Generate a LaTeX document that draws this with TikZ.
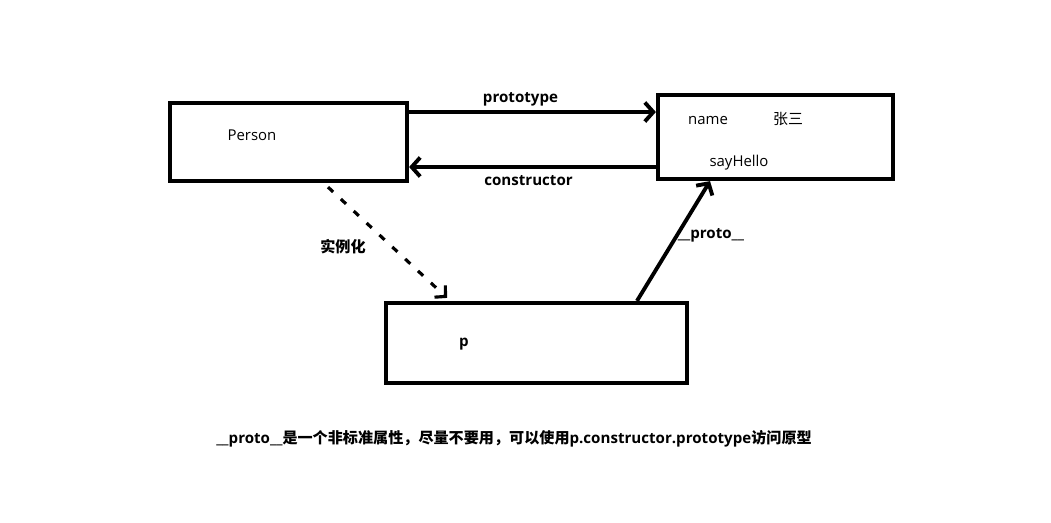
\documentclass[tikz,border=0pt]{standalone}
\usepackage{fontspec}
\setmainfont{Open Sans}
\newfontfamily\cjk{Noto Sans CJK SC}
\usepackage{xcolor}
\usetikzlibrary{arrows.meta,positioning}

\begin{document}
\begin{tikzpicture}[
  x=0.02cm,y=-0.02cm,
  font=\fontsize{8.5}{10}\selectfont,
  objbox/.style={draw,line width=2.4pt,minimum width=#1,inner sep=0pt},
  txt/.style={inner sep=0pt},
  lbl/.style={inner sep=0pt,font=\fontsize{8.6}{10}\selectfont\bfseries},
  link/.style={line width=2.2pt,-{Straight Barb[length=1.7mm,width=3.8mm]}},
  inst/.style={line width=1.8pt,dash pattern=on 4pt off 6pt,-{Straight Barb[length=1.5mm,width=3.2mm]}},
]
\useasboundingbox (0,0) rectangle (1051,522);

% --- boxes
\node[objbox=4.74cm,minimum height=1.56cm] (person) at (288.5,142) {};
\node[objbox=4.70cm,minimum height=1.68cm] (proto) at (775.5,137) {};
\node[objbox=6.02cm,minimum height=1.60cm] (inst) at (536.5,343) {};

% --- texts in the boxes
\node[txt] (pname) at (252,135) {Person};
\node[txt] (fname) at (708,120) {name};
\node[txt] (fval) at (788,119) {\cjk 张三};
\node[txt] (fsay) at (739,163) {sayHello};
\node[lbl] (iname) at (464,344) {p};

% --- links
\draw[link] ([yshift=0.6cm]person.east) -- node[lbl,above=2pt,xshift=-0.24cm] (lproto) {prototype} ([yshift=0.5cm]proto.west);
\draw[link] ([yshift=-0.6cm]proto.west) -- node[lbl,below=4pt,xshift=-0.08cm] (lcons) {constructor} ([yshift=-0.5cm]person.east);
\draw[inst] ([xshift=0.79cm,yshift=-0.08cm]person.south) -- ([xshift=-1.79cm,yshift=0.06cm]inst.north);
\node[lbl] (linst) at (343,247) {\cjk\bfseries 实例化};
\draw[link] ([xshift=2.01cm]inst.north) -- ([xshift=-1.31cm]proto.south);
\node[lbl] (lpp) at (711,235) {\_\_proto\_\_};

% --- note
\node[lbl] (note) at (514,439) {\_\_proto\_\_{\cjk\bfseries 是一个非标准属性，尽量不要用，可以使用}p.constructor.prototype{\cjk\bfseries 访问原型}};
\end{tikzpicture}
\end{document}
